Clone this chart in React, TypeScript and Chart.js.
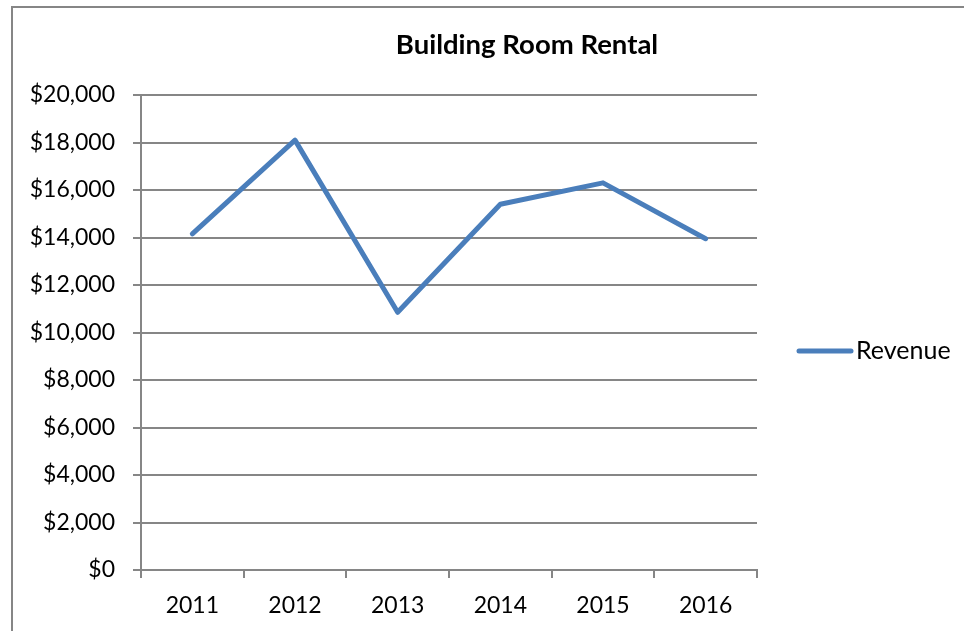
import React, { useEffect, useRef } from "react";
import { Chart, registerables } from "chart.js";

Chart.register(...registerables);

const years = ["2011", "2012", "2013", "2014", "2015", "2016"];
const revenue = [14150, 18100, 10850, 15400, 16300, 13950];
const seriesName = "Revenue";
const chartTitle = "Building Room Rental";

const FONT = "Lato, 'Open Sans', sans-serif";
const BLUE = "#4a7ebb";
const GRAY = "#868686";

const decorPlugin = {
  id: "decor",
  afterDraw(chart: any) {
    const ctx = chart.ctx;
    ctx.save();
    // frame
    ctx.strokeStyle = GRAY;
    ctx.lineWidth = 2;
    ctx.strokeRect(12, 7, 2000, 2000);
    // title
    ctx.fillStyle = "#000";
    ctx.font = `bold 27.5px ${FONT}`;
    ctx.textAlign = "center";
    ctx.textBaseline = "alphabetic";
    ctx.fillText(chartTitle, 527, 54);
    // legend
    ctx.strokeStyle = BLUE;
    ctx.lineWidth = 5;
    ctx.lineCap = "round";
    ctx.beginPath();
    ctx.moveTo(799, 351);
    ctx.lineTo(851, 351);
    ctx.stroke();
    ctx.font = `25px ${FONT}`;
    ctx.textAlign = "left";
    ctx.textBaseline = "middle";
    ctx.fillText(seriesName, 856, 351);
    ctx.restore();
  },
};

export default function App() {
  const ref = useRef<HTMLCanvasElement>(null);
  useEffect(() => {
    document.body.style.margin = "0";
    const chart = new Chart(ref.current!, {
      type: "line",
      data: {
        labels: years,
        datasets: [
          {
            label: seriesName,
            data: revenue,
            borderColor: BLUE,
            backgroundColor: BLUE,
            borderWidth: 5,
            borderCapStyle: "round",
            borderJoinStyle: "round",
            pointRadius: 0,
            tension: 0,
          },
        ],
      },
      options: {
        animation: false,
        responsive: false,
        layout: { padding: { left: 0, top: 95, right: 207, bottom: 0 } },
        plugins: { legend: { display: false }, title: { display: false }, tooltip: { enabled: false } },
        scales: {
          x: {
            offset: true,
            grid: {
              display: true,
              offset: true,
              drawOnChartArea: false,
              drawTicks: true,
              tickLength: 8,
              color: GRAY,
              lineWidth: 2,
            },
            border: { display: true, color: GRAY, width: 2 },
            ticks: { color: "#000", font: { family: FONT, size: 23 }, padding: 14, maxRotation: 0 },
            afterFit(scale: any) {
              scale.height = 61;
            },
          },
          y: {
            min: 0,
            max: 20000,
            grid: { color: GRAY, lineWidth: 2, tickLength: 8 },
            border: { display: true, color: GRAY, width: 2 },
            ticks: {
              stepSize: 2000,
              color: "#000",
              font: { family: FONT, size: 23 },
              padding: 18,
              callback: (v: any) => "$" + Number(v).toLocaleString("en-US"),
            },
            afterFit(scale: any) {
              scale.width = 141;
            },
          },
        },
      },
      plugins: [decorPlugin],
    });
    return () => chart.destroy();
  }, []);
  return (
    <div style={{ width: 964, height: 631, background: "#fff" }}>
      <canvas ref={ref} width={964} height={631} style={{ display: "block" }} />
    </div>
  );
}
